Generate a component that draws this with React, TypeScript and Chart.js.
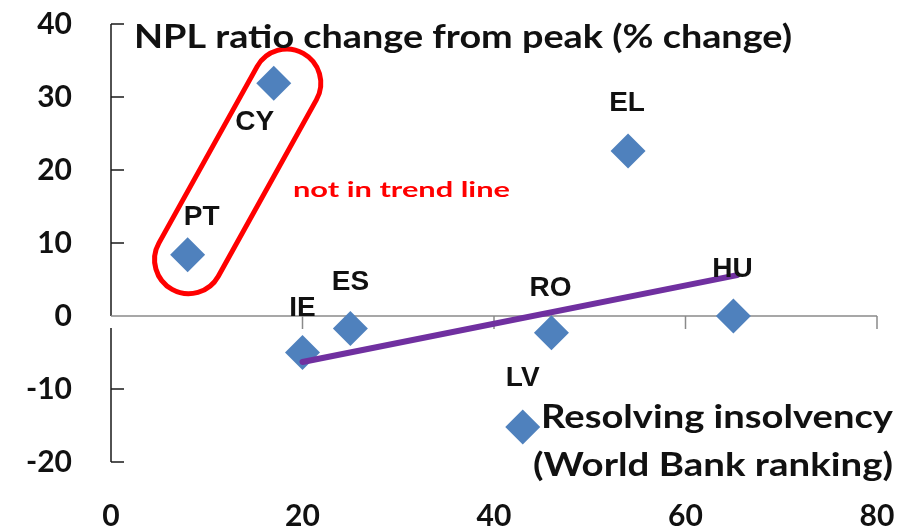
import { useEffect, useRef } from "react";
import { Chart, registerables } from "chart.js";

Chart.register(...registerables);

// Countries, World Bank "resolving insolvency" ranking, and NPL ratio change from peak (%)
const countries = ["PT", "CY", "IE", "ES", "LV", "RO", "EL", "HU"];
const insolvencyRank = [8, 17, 20, 25, 43, 46, 54, 65];
const nplChange = [8.4, 31.9, -5.0, -1.7, -15.2, -2.3, 22.6, 0.0];

// Countries left out of the trend line
const outliers = ["PT", "CY"];

// Trend line end points (ranking, NPL change)
const trendRank = [20, 65.4];
const trendNpl = [-6.3, 5.6];

// Axis ranges and tick steps
const xRange = [0, 80];
const xStep = 20;
const yRange = [-20, 40];
const yStep = 10;

const titleText = "NPL ratio change from peak (% change)";
const noteText = "not in trend line";
const xTitleLines = ["Resolving insolvency", "(World Bank ranking)"];

const BLUE = "#4F81BD";
const PURPLE = "#7030A0";
const RED = "#FF0000";

// Label placement around each marker (centre of the label, in px from the marker)
const labelOffsets: Record<string, [number, number]> = {
  PT: [14, -40],
  CY: [-19, 37],
  IE: [0, -47],
  ES: [0, -48],
  LV: [0, -51],
  RO: [-1, -47],
  EL: [-1, -50],
  HU: [-1, -49],
};

function fitText(
  ctx: CanvasRenderingContext2D,
  text: string,
  x: number,
  y: number,
  width: number,
  align: "left" | "right"
) {
  const w = ctx.measureText(text).width;
  const sx = width / w;
  ctx.save();
  ctx.translate(align === "left" ? x : x - width, y);
  ctx.scale(sx, 1);
  ctx.textAlign = "left";
  ctx.textBaseline = "alphabetic";
  ctx.fillText(text, 0, 0);
  ctx.restore();
}

const decorPlugin = {
  id: "decor",
  beforeDatasetsDraw(chart: any) {
    const { ctx, scales } = chart;
    const xs = scales.x;
    const ys = scales.y;
    const x0 = xs.getPixelForValue(0);
    const xEnd = xs.getPixelForValue(xRange[1]);
    const y0 = ys.getPixelForValue(0);
    const yTop = ys.getPixelForValue(yRange[1]);
    const yBot = ys.getPixelForValue(yRange[0]);

    ctx.save();
    // vertical axis with inward ticks
    ctx.strokeStyle = "#1a1a1a";
    ctx.lineWidth = 1.5;
    ctx.beginPath();
    ctx.moveTo(x0, yTop);
    ctx.lineTo(x0, y0);
    ctx.moveTo(x0, y0 + 12);
    ctx.lineTo(x0, yBot);
    for (let v = yRange[0]; v <= yRange[1]; v += yStep) {
      if (v === 0) continue;
      const py = ys.getPixelForValue(v);
      ctx.moveTo(x0, py);
      ctx.lineTo(x0 + 13, py);
    }
    ctx.stroke();

    // horizontal axis through zero
    ctx.strokeStyle = "#8a8a8a";
    ctx.lineWidth = 1.5;
    ctx.beginPath();
    ctx.moveTo(x0, y0);
    ctx.lineTo(xEnd, y0);
    for (let v = xRange[0] + xStep; v <= xRange[1]; v += xStep) {
      const px = xs.getPixelForValue(v);
      ctx.moveTo(px, y0);
      ctx.lineTo(px, y0 + 13);
    }
    ctx.stroke();

    // loop around the countries excluded from the trend
    const meta = chart.getDatasetMeta(1);
    const pA = meta.data[countries.indexOf(outliers[0])];
    const pB = meta.data[countries.indexOf(outliers[1])];
    const ax = pA.x + 1;
    const ay = pA.y + 5;
    const bx = pB.x + 13;
    const by = pB.y;
    const r = 34;
    const th = Math.atan2(by - ay, bx - ax);
    ctx.strokeStyle = RED;
    ctx.lineWidth = 5;
    ctx.beginPath();
    ctx.arc(bx, by, r, th - Math.PI / 2, th + Math.PI / 2);
    ctx.arc(ax, ay, r, th + Math.PI / 2, th + (3 * Math.PI) / 2);
    ctx.closePath();
    ctx.stroke();
    ctx.restore();
  },
  afterDatasetsDraw(chart: any) {
    const { ctx, chartArea } = chart;
    ctx.save();
    ctx.fillStyle = "#111";

    // country labels
    ctx.font = "bold 28px 'Liberation Sans', Arial, sans-serif";
    ctx.textAlign = "center";
    ctx.textBaseline = "alphabetic";
    const meta = chart.getDatasetMeta(1);
    countries.forEach((c, i) => {
      const el = meta.data[i];
      const [dx, dy] = labelOffsets[c];
      ctx.fillText(c, el.x + dx, el.y + dy + 10);
    });

    // chart title inside the plot
    ctx.font = "bold 32px Lato, sans-serif";
    fitText(ctx, titleText, chartArea.left + 23, chartArea.top + 24, 658, "left");

    // x-axis title, bottom right
    fitText(ctx, xTitleLines[0], chartArea.right + 16, chartArea.bottom - 34, 352, "right");
    fitText(ctx, xTitleLines[1], chartArea.right + 16, chartArea.bottom + 14, 360, "right");

    // note next to the loop
    ctx.fillStyle = RED;
    ctx.font = "bold 21px Lato, sans-serif";
    fitText(ctx, noteText, chartArea.left + 182, chartArea.top + 173, 217, "left");
    ctx.restore();
  },
};

export default function App() {
  const canvasRef = useRef<HTMLCanvasElement | null>(null);

  useEffect(() => {
    const canvas = canvasRef.current;
    if (!canvas) return;
    const points = countries.map((_, i) => ({ x: insolvencyRank[i], y: nplChange[i] }));
    const trend = trendRank.map((x, i) => ({ x, y: trendNpl[i] }));
    const tickFont = { family: "Lato, sans-serif", size: 30, weight: "bold" as const };

    const chart = new Chart(canvas, {
      type: "scatter",
      data: {
        datasets: [
          {
            type: "line",
            label: "Trend",
            data: trend,
            borderColor: PURPLE,
            borderWidth: 6,
            borderCapStyle: "round",
            pointRadius: 0,
            fill: false,
            order: 0,
          },
          {
            type: "scatter",
            label: "NPL change",
            data: points,
            backgroundColor: BLUE,
            borderColor: BLUE,
            borderWidth: 0,
            pointStyle: "rectRot",
            pointRadius: 17.5,
            order: 1,
          },
        ],
      },
      options: {
        responsive: false,
        animation: false,
        devicePixelRatio: 1,
        layout: { autoPadding: false, padding: { top: 24, right: 30, left: 0, bottom: 0 } },
        plugins: {
          legend: { display: false },
          tooltip: { enabled: false },
          title: { display: false },
        },
        scales: {
          x: {
            type: "linear",
            min: xRange[0],
            max: xRange[1],
            border: { display: false },
            grid: { display: false, drawTicks: false },
            ticks: { stepSize: xStep, font: tickFont, color: "#111", padding: 36, maxRotation: 0 },
            afterFit: (s: any) => {
              s.height = 70;
              s.paddingLeft = 0;
              s.paddingRight = 0;
            },
          },
          y: {
            type: "linear",
            min: yRange[0],
            max: yRange[1],
            border: { display: false },
            grid: { display: false, drawTicks: false },
            ticks: { stepSize: yStep, font: tickFont, color: "#111", padding: 39 },
            afterFit: (s: any) => {
              s.width = 111;
              s.paddingTop = 0;
              s.paddingBottom = 0;
            },
          },
        },
      },
      plugins: [decorPlugin],
    });
    return () => chart.destroy();
  }, []);

  return (
    <div style={{ position: "fixed", left: 0, top: 0, width: 907, height: 532, background: "#fff" }}>
      <canvas ref={canvasRef} width={907} height={532} style={{ display: "block" }} />
    </div>
  );
}
